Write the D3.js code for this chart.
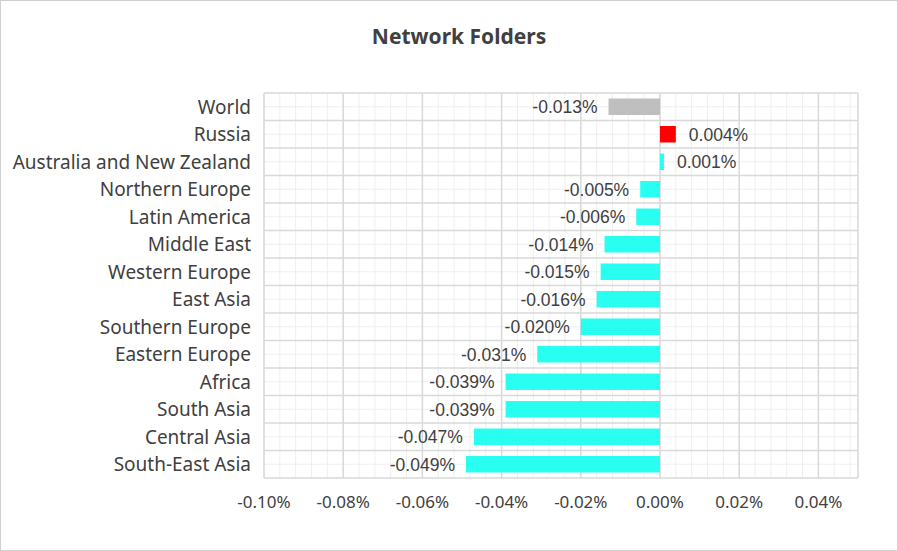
<!DOCTYPE html><html><head><meta charset="utf-8">
<script src="https://cdn.jsdelivr.net/npm/d3@7"></script>
<style>body{margin:0;background:#fff}</style></head><body>
<svg id="c" width="898" height="551"></svg>
<script>
const categories=["World","Russia","Australia and New Zealand","Northern Europe","Latin America","Middle East","Western Europe","East Asia","Southern Europe","Eastern Europe","Africa","South Asia","Central Asia","South-East Asia"];
const values=[-0.013,0.004,0.001,-0.005,-0.006,-0.014,-0.015,-0.016,-0.020,-0.031,-0.039,-0.039,-0.047,-0.049];
const colors=["#bfbfbf","#ff0000","#29fff0","#29fff0","#29fff0","#29fff0","#29fff0","#29fff0","#29fff0","#29fff0","#29fff0","#29fff0","#29fff0","#29fff0"];
const xTicks=[-0.10,-0.08,-0.06,-0.04,-0.02,0,0.02,0.04];
const fmt3=v=>d3.format(".3f")(v).replace("\u2212","-")+"%";
const fmt2=v=>d3.format(".2f")(v).replace("\u2212","-")+"%";
const svg=d3.select("#c");
svg.append("rect").attr("x",0.5).attr("y",0.5).attr("width",897).attr("height",550).attr("fill","#fff").attr("stroke","#d0d0d0");
const L=264,R=858,T=93,B=478;
const x=d3.scaleLinear().domain([-0.10,0.05]).range([L,R]);
const y=d3.scaleBand().domain(categories).range([T,B]).paddingInner(0.4).paddingOuter(0.2);
const band=(B-T)/categories.length;
const g=svg.append("g");
d3.range(-0.10,0.0501,0.004).forEach(v=>g.append("line").attr("x1",x(v)).attr("x2",x(v)).attr("y1",T).attr("y2",B).attr("stroke","#efefef"));
categories.forEach((c,i)=>g.append("line").attr("x1",L).attr("x2",R).attr("y1",T+band*(i+0.5)).attr("y2",T+band*(i+0.5)).attr("stroke","#efefef"));
xTicks.concat([0.05]).forEach(v=>g.append("line").attr("x1",x(v)).attr("x2",x(v)).attr("y1",T).attr("y2",B).attr("stroke","#d9d9d9").attr("stroke-width",1.5));
d3.range(categories.length+1).forEach(i=>g.append("line").attr("x1",L).attr("x2",R).attr("y1",T+band*i).attr("y2",T+band*i).attr("stroke","#d9d9d9").attr("stroke-width",1.5));
categories.forEach((c,i)=>{
  const v=values[i];
  g.append("rect").attr("x",x(Math.min(0,v))).attr("width",Math.max(1,Math.abs(x(v)-x(0)))).attr("y",y(c)).attr("height",y.bandwidth()).attr("fill",colors[i]);
  const lx=v<0?x(v)-11:x(v)+13;
  g.append("text").attr("x",lx).attr("y",y(c)+y.bandwidth()/2).attr("dy","0.36em").attr("text-anchor",v<0?"end":"start")
   .attr("font-family","Liberation Sans, Arial").attr("font-size",17.5).attr("fill","#404040").text(fmt3(v));
  g.append("text").attr("x",L-13).attr("y",y(c)+y.bandwidth()/2).attr("dy","0.36em").attr("text-anchor","end")
   .attr("font-family","Noto Sans").attr("font-size",19).attr("fill","#404040").text(c);
});
xTicks.forEach(v=>g.append("text").attr("x",x(v)).attr("y",B+30).attr("text-anchor","middle")
  .attr("font-family","Noto Sans").attr("font-size",17).attr("fill","#404040").text(fmt2(v)));
svg.append("text").attr("x",459).attr("y",44).attr("text-anchor","middle").attr("font-family","Noto Sans").attr("font-weight","bold").attr("font-size",21).attr("fill","#404040").text("Network Folders");
</script></body></html>
